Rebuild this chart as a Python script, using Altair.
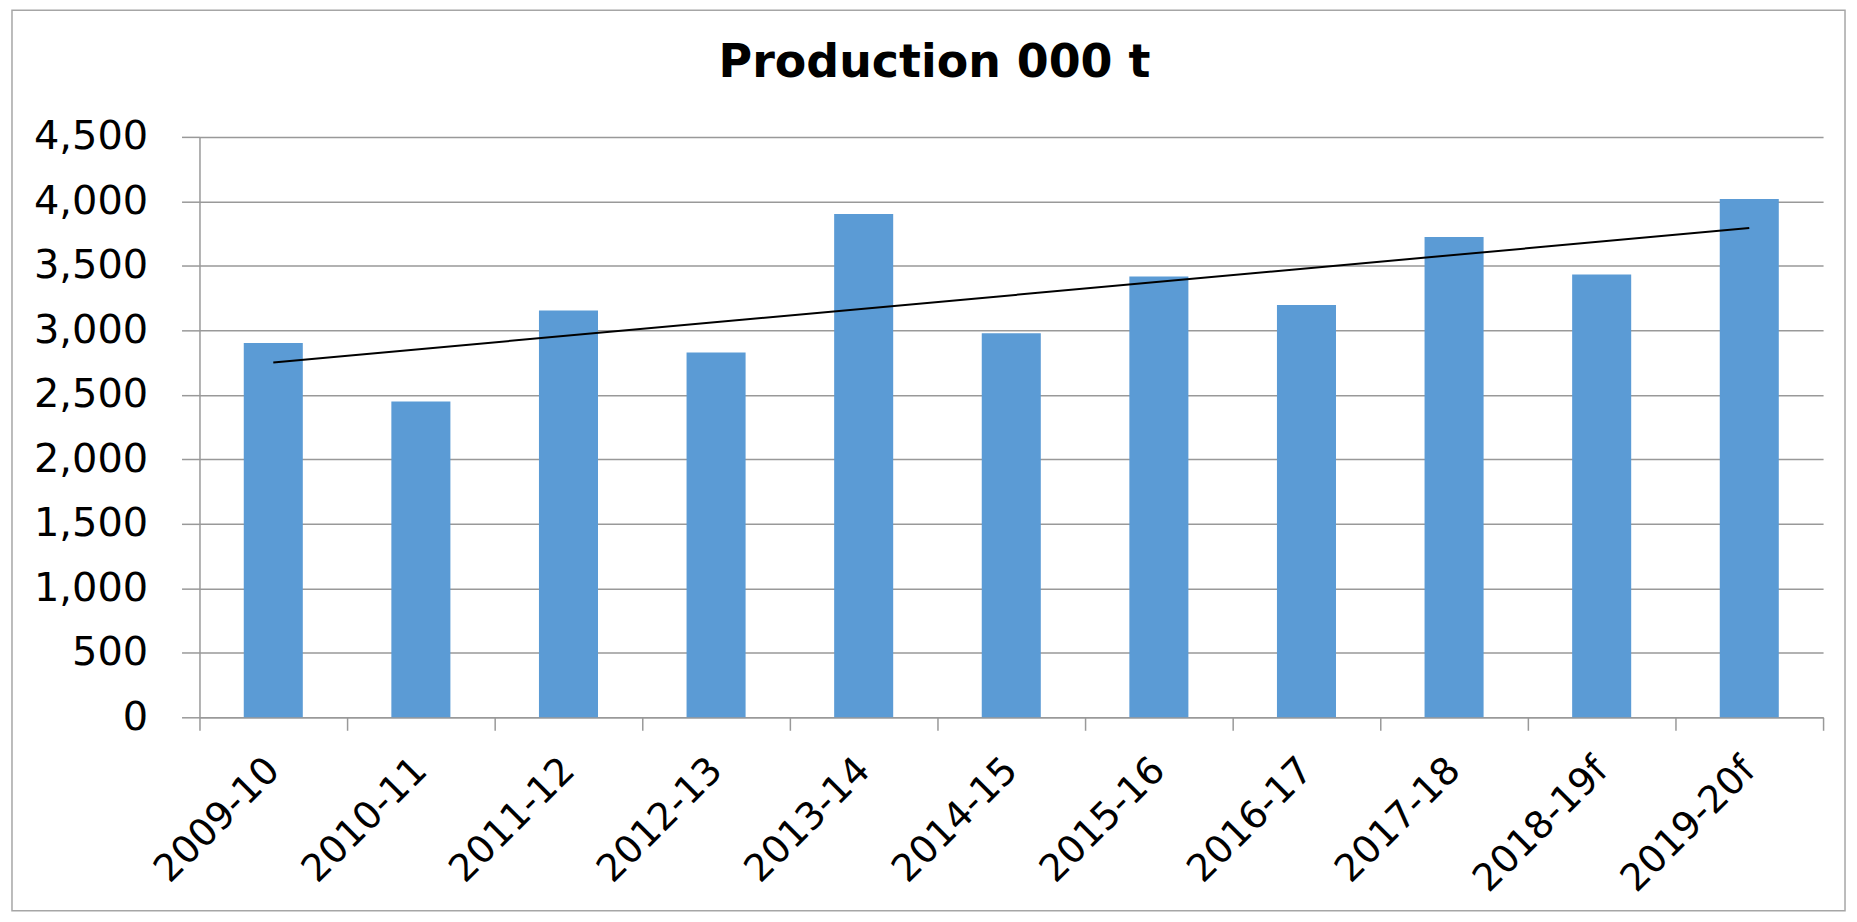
import altair as alt
import pandas as pd

# ---- data ----
seasons = ["2009-10", "2010-11", "2011-12", "2012-13", "2013-14", "2014-15",
           "2015-16", "2016-17", "2017-18", "2018-19f", "2019-20f"]
production = [2902, 2448, 3153, 2829, 3902, 2977, 3417, 3197, 3723, 3433, 4018]
trend_seasons = ["2009-10", "2019-20f"]
trend_values = [2751, 3793]
y_ticks = [0, 500, 1000, 1500, 2000, 2500, 3000, 3500, 4000, 4500]

bars_df = pd.DataFrame({"season": seasons, "production": production})
trend_df = pd.DataFrame({"season": trend_seasons, "production": trend_values})

GRID = "#999999"

x_enc = alt.X(
    "season:N", sort=seasons, title=None,
    scale=alt.Scale(paddingInner=0, paddingOuter=0),
    axis=alt.Axis(labelAngle=-45, labelFont="DejaVu Sans", labelFontSize=38,
                  labelColor="black", labelAlign="right", labelBaseline="middle",
                  tickBand="extent", tickSize=13,
                  tickColor=GRID, tickWidth=1.5, domainColor=GRID, domainWidth=1.5,
                  labelPadding=34, labelLimit=0, grid=False),
)
y_enc = alt.Y(
    "production:Q", title=None,
    scale=alt.Scale(domain=[0, 4500], nice=False),
    axis=alt.Axis(values=y_ticks, format=",.0f", labelFont="DejaVu Sans",
                  labelFontSize=40, labelColor="black", tickSize=18,
                  tickColor=GRID, tickWidth=1.5, domainColor=GRID, domainWidth=1.5,
                  gridColor=GRID, gridWidth=1.5, labelPadding=34),
)

bars = alt.Chart(bars_df).mark_bar(
    color="#5B9BD5", width=alt.RelativeBandSize(0.4)
).encode(x=x_enc, y=y_enc)
trend = alt.Chart(trend_df).mark_line(color="black", strokeWidth=2).encode(
    x=alt.X("season:N", sort=seasons), y="production:Q")

frame = alt.Chart(alt.Data(values=[{"k": 1}])).mark_rect(
    fillOpacity=0, stroke="#a6a6a6", strokeWidth=1.5
).encode(x=alt.value(-188), x2=alt.value(1650), y=alt.value(-127), y2=alt.value(776))

chart = alt.layer(frame, bars, trend).properties(
    width=1628, height=582,
    title=alt.TitleParams("Production 000 t", font="DejaVu Sans", fontSize=46,
                          fontWeight="bold", color="black", anchor="middle",
                          frame="bounds", offset=-78, dx=6),
    autosize=alt.AutoSizeParams(type="none"),
    padding={"left": 192, "top": 128, "right": 26, "bottom": 196},
).configure_view(stroke=None)

chart.save("out.html", embed_options={"renderer": "svg", "actions": False})
